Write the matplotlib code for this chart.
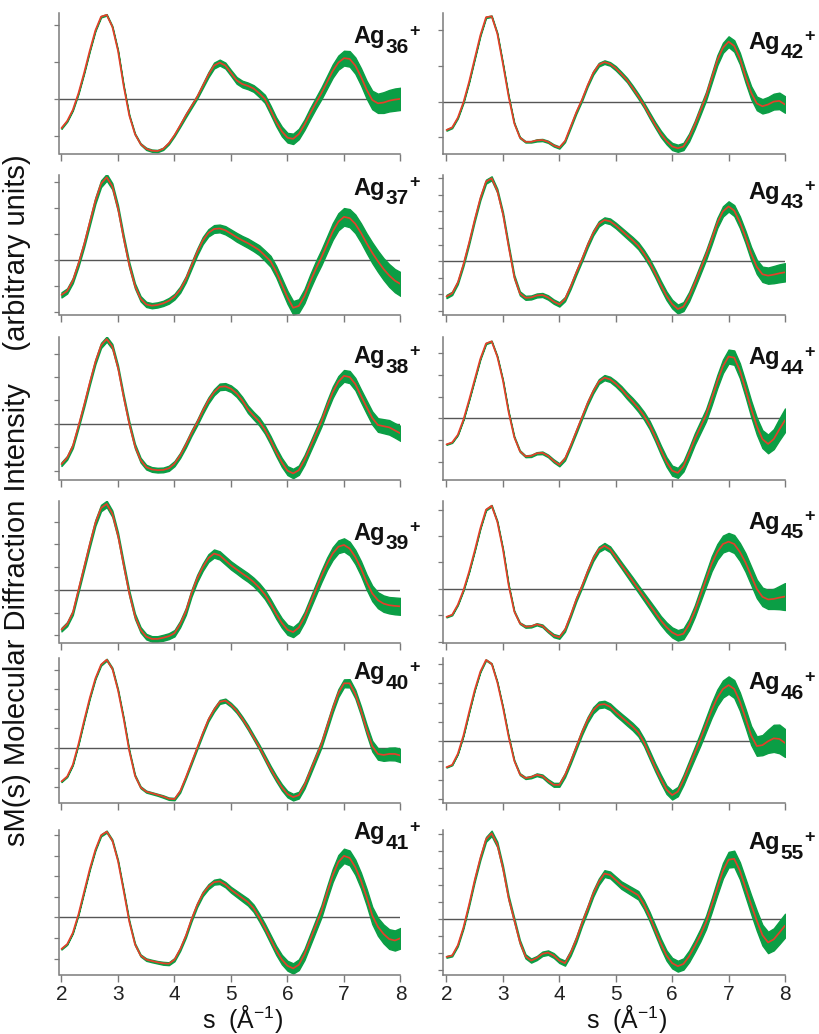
import matplotlib
matplotlib.use("Agg")
import matplotlib.pyplot as plt
from matplotlib import font_manager

# ---------------- data ----------------
s_values = [2.0, 2.1, 2.2, 2.3, 2.4, 2.5, 2.6, 2.7, 2.8, 2.9,
            3.0, 3.1, 3.2, 3.3, 3.4, 3.5, 3.6, 3.7, 3.8, 3.9,
            4.0, 4.1, 4.2, 4.3, 4.4, 4.5, 4.6, 4.7, 4.8, 4.9,
            5.0, 5.1, 5.2, 5.3, 5.4, 5.5, 5.6, 5.7, 5.8, 5.9,
            6.0, 6.1, 6.2, 6.3, 6.4, 6.5, 6.6, 6.7, 6.8, 6.9,
            7.0, 7.1, 7.2, 7.3, 7.4, 7.5, 7.6, 7.7, 7.8, 7.9,
            8.0]

cluster_sizes = ["36", "37", "38", "39", "40", "41",
                 "42", "43", "44", "45", "46", "55"]

x_tick_values = [2, 3, 4, 5, 6, 7, 8]

y_ag36 = [-0.79, -0.6, -0.3, 0.15, 0.7, 1.3, 1.85, 2.22, 2.27, 1.95,
          1.3, 0.35, -0.45, -0.95, -1.22, -1.35, -1.40, -1.41, -1.35, -1.2,
          -0.98, -0.72, -0.45, -0.2, 0.05, 0.35, 0.65, 0.9, 0.98, 0.9,
          0.7, 0.5, 0.4, 0.35, 0.28, 0.15, 0.0, -0.3, -0.62, -0.88,
          -1.05, -1.08, -0.95, -0.7, -0.4, -0.12, 0.15, 0.45, 0.75, 0.98,
          1.1, 1.08, 0.9, 0.6, 0.25, -0.03, -0.12, -0.1, -0.05, -0.02,
          0.0]
y_ag37 = [-1.35, -1.2, -0.8, -0.15, 0.6, 1.45, 2.3, 2.95, 3.2, 2.85,
          2.0, 0.85, -0.2, -1.0, -1.5, -1.72, -1.77, -1.74, -1.68, -1.58,
          -1.42, -1.15, -0.75, -0.22, 0.3, 0.75, 1.05, 1.2, 1.22, 1.15,
          1.02, 0.88, 0.76, 0.65, 0.52, 0.38, 0.17, -0.05, -0.45, -0.95,
          -1.45, -1.85, -1.78, -1.4, -0.85, -0.35, 0.1, 0.6, 1.1, 1.48,
          1.67, 1.62, 1.4, 1.05, 0.65, 0.28, -0.05, -0.35, -0.6, -0.8,
          -0.93]
y_ag38 = [-1.72, -1.45, -0.95, -0.1, 0.8, 1.75, 2.65, 3.35, 3.62, 3.3,
          2.4, 1.15, 0.0, -0.95, -1.55, -1.85, -1.95, -1.98, -1.97, -1.9,
          -1.7, -1.35, -0.9, -0.4, 0.05, 0.55, 1.0, 1.35, 1.58, 1.6,
          1.5, 1.3, 1.0, 0.62, 0.35, 0.1, -0.25, -0.7, -1.2, -1.65,
          -2.0, -2.12, -1.98, -1.55, -1.0, -0.45, 0.1, 0.75, 1.35, 1.8,
          2.05, 2.0, 1.7, 1.2, 0.72, 0.25, -0.05, -0.1, -0.15, -0.28,
          -0.41]
y_ag39 = [-1.74, -1.5, -1.0, 0.0, 1.0, 2.0, 2.95, 3.6, 3.78, 3.35,
          2.4, 1.1, -0.15, -1.15, -1.75, -2.05, -2.15, -2.15, -2.1, -2.03,
          -1.9, -1.5, -0.95, -0.15, 0.5, 1.0, 1.4, 1.6, 1.52, 1.3,
          1.08, 0.9, 0.72, 0.55, 0.35, 0.1, -0.2, -0.6, -1.05, -1.45,
          -1.75, -1.85, -1.65, -1.2, -0.6, 0.0, 0.6, 1.15, 1.6, 1.9,
          1.98, 1.82, 1.45, 0.95, 0.35, -0.15, -0.45, -0.6, -0.67, -0.7,
          -0.72]
y_ag40 = [-1.7, -1.45, -0.85, 0.2, 1.4, 2.55, 3.55, 4.25, 4.5, 4.05,
          2.95, 1.5, -0.15, -1.4, -2.0, -2.22, -2.3, -2.38, -2.47, -2.58,
          -2.6, -2.2, -1.5, -0.75, 0.0, 0.75, 1.45, 1.95, 2.35, 2.42,
          2.2, 1.9, 1.5, 1.05, 0.55, 0.05, -0.5, -1.05, -1.55, -2.0,
          -2.35, -2.5, -2.4, -1.9, -1.2, -0.5, 0.2, 1.1, 2.0, 2.8,
          3.3, 3.3, 2.75, 1.9, 0.95, 0.1, -0.3, -0.35, -0.3, -0.3,
          -0.38]
y_ag41 = [-1.53, -1.3, -0.75, 0.15, 1.25, 2.35, 3.3, 4.0, 4.18, 3.75,
          2.75, 1.3, -0.2, -1.3, -1.85, -2.05, -2.12, -2.18, -2.23, -2.25,
          -2.05, -1.55, -0.9, -0.1, 0.6, 1.15, 1.5, 1.72, 1.76, 1.6,
          1.35, 1.15, 0.95, 0.75, 0.45, 0.0, -0.5, -1.05, -1.6, -2.05,
          -2.35, -2.48, -2.3, -1.8, -1.1, -0.4, 0.3, 1.2, 2.05, 2.7,
          3.0, 2.9, 2.45, 1.8, 1.0, 0.1, -0.45, -0.8, -1.05, -1.12,
          -1.01]
y_ag42 = [-0.79, -0.72, -0.45, -0.02, 0.55, 1.2, 1.85, 2.35, 2.38, 1.9,
          1.05, 0.15, -0.6, -1.0, -1.12, -1.12, -1.08, -1.07, -1.12, -1.22,
          -1.28, -1.1, -0.7, -0.3, 0.05, 0.45, 0.8, 1.03, 1.1, 1.05,
          0.93, 0.77, 0.6, 0.38, 0.15, -0.1, -0.38, -0.65, -0.9, -1.1,
          -1.25, -1.3, -1.25, -1.0, -0.65, -0.25, 0.15, 0.65, 1.15, 1.5,
          1.67, 1.55, 1.2, 0.7, 0.25, -0.05, -0.13, -0.08, 0.0, 0.02,
          -0.08]
y_ag43 = [-2.14, -1.95, -1.3, -0.2, 1.1, 2.5, 3.8, 4.8, 5.0, 4.25,
          2.85, 0.9, -0.95, -1.95, -2.22, -2.2, -2.08, -2.05, -2.2, -2.45,
          -2.62, -2.3, -1.55, -0.7, 0.1, 0.95, 1.7, 2.25, 2.48, 2.4,
          2.15, 1.85, 1.55, 1.25, 0.92, 0.45, -0.1, -0.75, -1.45, -2.1,
          -2.6, -2.9, -2.75, -2.15, -1.35, -0.5, 0.35, 1.3, 2.3, 3.0,
          3.3, 3.05, 2.35, 1.45, 0.45, -0.35, -0.8, -0.88, -0.82, -0.74,
          -0.68]
y_ag44 = [-1.19, -1.1, -0.75, -0.05, 0.85, 1.8, 2.75, 3.45, 3.55, 2.85,
          1.75, 0.3, -0.85, -1.5, -1.74, -1.72, -1.6, -1.58, -1.72, -1.95,
          -2.13, -1.85, -1.25, -0.6, 0.05, 0.7, 1.25, 1.7, 1.88, 1.8,
          1.6, 1.35, 1.05, 0.78, 0.48, 0.13, -0.3, -0.85, -1.45, -2.0,
          -2.4, -2.5, -2.2, -1.6, -0.95, -0.4, 0.15, 0.9, 1.7, 2.4,
          2.85, 2.8, 2.2, 1.35, 0.45, -0.35, -0.95, -1.17, -0.95, -0.5,
          -0.08]
y_ag45 = [-1.06, -0.98, -0.6, -0.05, 0.65, 1.45, 2.3, 3.0, 3.15, 2.55,
          1.5, 0.15, -0.85, -1.3, -1.43, -1.42, -1.34, -1.4, -1.6, -1.77,
          -1.83, -1.55, -1.0, -0.4, 0.1, 0.65, 1.15, 1.5, 1.63, 1.5,
          1.2, 0.9, 0.6, 0.3, 0.0, -0.3, -0.6, -0.9, -1.2, -1.45,
          -1.65, -1.76, -1.7, -1.35, -0.85, -0.25, 0.35, 0.95, 1.4, 1.7,
          1.79, 1.7, 1.4, 1.0, 0.5, 0.0, -0.3, -0.4, -0.38, -0.33,
          -0.29]
y_ag46 = [-1.34, -1.22, -0.65, 0.3, 1.5, 2.65, 3.6, 4.2, 4.0, 3.05,
          1.75, 0.25, -1.0, -1.7, -1.9, -1.85, -1.73, -1.8, -2.05, -2.25,
          -2.25, -1.75, -1.05, -0.3, 0.45, 1.1, 1.6, 1.88, 1.92, 1.78,
          1.5, 1.25, 1.0, 0.75, 0.45, -0.05, -0.7, -1.35, -1.95, -2.5,
          -2.78, -2.6, -2.0, -1.3, -0.6, 0.1, 0.85, 1.6, 2.25, 2.7,
          2.9, 2.7, 2.05, 1.2, 0.3, -0.25, -0.2, 0.0, 0.15, 0.12,
          -0.09]
y_ag55 = [-2.23, -2.15, -1.55, -0.5, 0.85, 2.3, 3.6, 4.7, 5.05, 4.4,
          3.0, 1.25, -0.05, -1.35, -2.2, -2.45, -2.3, -2.05, -1.98, -2.15,
          -2.45, -2.6, -2.0, -1.2, -0.25, 0.6, 1.5, 2.2, 2.68, 2.6,
          2.3, 2.0, 1.8, 1.6, 1.4, 0.85, 0.15, -0.65, -1.45, -2.15,
          -2.6, -2.78, -2.65, -2.2, -1.6, -0.95, -0.2, 0.8, 1.85, 2.85,
          3.5, 3.55, 2.85, 1.85, 0.85, -0.1, -0.95, -1.38, -1.2, -0.8,
          -0.39]

err_ag36 = [0.02, 0.02, 0.02, 0.02, 0.02, 0.02, 0.02, 0.02, 0.02, 0.02,
            0.02, 0.02, 0.02, 0.02, 0.02, 0.03, 0.03, 0.03, 0.03, 0.03,
            0.03, 0.04, 0.05, 0.05, 0.05, 0.06, 0.07, 0.08, 0.08, 0.08,
            0.08, 0.09, 0.09, 0.09, 0.09, 0.10, 0.11, 0.12, 0.12, 0.13,
            0.13, 0.14, 0.14, 0.14, 0.15, 0.15, 0.16, 0.17, 0.18, 0.19,
            0.20, 0.21, 0.22, 0.23, 0.24, 0.25, 0.26, 0.28, 0.29, 0.30,
            0.30]
err_ag37 = [0.10, 0.10, 0.10, 0.11, 0.11, 0.12, 0.12, 0.13, 0.13, 0.12,
            0.12, 0.11, 0.11, 0.10, 0.10, 0.10, 0.10, 0.10, 0.10, 0.11,
            0.11, 0.12, 0.12, 0.13, 0.13, 0.14, 0.14, 0.15, 0.15, 0.16,
            0.16, 0.17, 0.17, 0.18, 0.18, 0.19, 0.20, 0.21, 0.22, 0.24,
            0.25, 0.26, 0.26, 0.27, 0.28, 0.29, 0.30, 0.31, 0.32, 0.33,
            0.34, 0.35, 0.36, 0.37, 0.38, 0.40, 0.41, 0.42, 0.44, 0.45,
            0.46]
err_ag38 = [0.08, 0.08, 0.09, 0.09, 0.10, 0.10, 0.10, 0.11, 0.11, 0.11,
            0.10, 0.10, 0.10, 0.10, 0.10, 0.10, 0.10, 0.10, 0.10, 0.11,
            0.11, 0.11, 0.12, 0.12, 0.12, 0.13, 0.13, 0.13, 0.14, 0.14,
            0.14, 0.15, 0.15, 0.16, 0.16, 0.17, 0.17, 0.18, 0.18, 0.19,
            0.19, 0.20, 0.20, 0.21, 0.21, 0.22, 0.22, 0.23, 0.24, 0.24,
            0.25, 0.26, 0.26, 0.27, 0.28, 0.28, 0.29, 0.30, 0.31, 0.31,
            0.32]
err_ag39 = [0.08, 0.09, 0.10, 0.11, 0.12, 0.13, 0.13, 0.14, 0.14, 0.14,
            0.13, 0.13, 0.12, 0.12, 0.12, 0.12, 0.12, 0.12, 0.13, 0.13,
            0.14, 0.14, 0.15, 0.15, 0.16, 0.16, 0.17, 0.18, 0.18, 0.18,
            0.18, 0.18, 0.19, 0.19, 0.19, 0.20, 0.20, 0.20, 0.21, 0.21,
            0.22, 0.22, 0.23, 0.23, 0.24, 0.25, 0.26, 0.27, 0.28, 0.28,
            0.29, 0.30, 0.31, 0.32, 0.33, 0.34, 0.35, 0.36, 0.36, 0.37,
            0.37]
err_ag40 = [0.03, 0.03, 0.03, 0.03, 0.04, 0.04, 0.04, 0.05, 0.05, 0.05,
            0.05, 0.05, 0.05, 0.05, 0.05, 0.05, 0.05, 0.05, 0.06, 0.06,
            0.06, 0.07, 0.07, 0.08, 0.08, 0.09, 0.09, 0.10, 0.10, 0.10,
            0.10, 0.11, 0.11, 0.12, 0.12, 0.13, 0.14, 0.15, 0.15, 0.16,
            0.16, 0.17, 0.17, 0.17, 0.18, 0.18, 0.18, 0.19, 0.19, 0.20,
            0.20, 0.21, 0.22, 0.23, 0.25, 0.27, 0.29, 0.30, 0.32, 0.33,
            0.34]
err_ag41 = [0.03, 0.03, 0.03, 0.03, 0.04, 0.04, 0.04, 0.05, 0.05, 0.05,
            0.05, 0.05, 0.05, 0.05, 0.05, 0.06, 0.06, 0.06, 0.07, 0.07,
            0.08, 0.08, 0.09, 0.10, 0.10, 0.11, 0.12, 0.12, 0.13, 0.13,
            0.14, 0.15, 0.16, 0.17, 0.18, 0.19, 0.20, 0.21, 0.22, 0.23,
            0.24, 0.25, 0.26, 0.27, 0.28, 0.29, 0.30, 0.31, 0.32, 0.34,
            0.35, 0.36, 0.37, 0.38, 0.40, 0.42, 0.44, 0.46, 0.48, 0.49,
            0.50]
err_ag42 = [0.02, 0.02, 0.02, 0.02, 0.02, 0.02, 0.02, 0.02, 0.02, 0.02,
            0.02, 0.02, 0.02, 0.02, 0.02, 0.02, 0.03, 0.03, 0.03, 0.03,
            0.03, 0.03, 0.04, 0.04, 0.04, 0.04, 0.05, 0.05, 0.05, 0.05,
            0.06, 0.06, 0.06, 0.07, 0.07, 0.07, 0.08, 0.08, 0.09, 0.09,
            0.10, 0.10, 0.10, 0.11, 0.11, 0.12, 0.12, 0.13, 0.14, 0.14,
            0.15, 0.16, 0.16, 0.17, 0.18, 0.19, 0.20, 0.21, 0.22, 0.23,
            0.23]
err_ag43 = [0.10, 0.10, 0.10, 0.11, 0.11, 0.11, 0.12, 0.12, 0.12, 0.12,
            0.12, 0.12, 0.12, 0.12, 0.12, 0.12, 0.12, 0.12, 0.13, 0.13,
            0.13, 0.13, 0.14, 0.14, 0.14, 0.15, 0.15, 0.16, 0.16, 0.17,
            0.17, 0.18, 0.19, 0.20, 0.21, 0.22, 0.23, 0.24, 0.25, 0.26,
            0.26, 0.27, 0.27, 0.28, 0.28, 0.29, 0.29, 0.30, 0.30, 0.31,
            0.31, 0.33, 0.35, 0.37, 0.40, 0.43, 0.46, 0.49, 0.52, 0.54,
            0.55]
err_ag44 = [0.02, 0.02, 0.02, 0.02, 0.02, 0.03, 0.03, 0.03, 0.03, 0.03,
            0.03, 0.03, 0.04, 0.04, 0.04, 0.05, 0.05, 0.06, 0.06, 0.07,
            0.07, 0.08, 0.08, 0.09, 0.09, 0.10, 0.10, 0.11, 0.12, 0.12,
            0.13, 0.14, 0.15, 0.16, 0.17, 0.18, 0.19, 0.20, 0.21, 0.22,
            0.23, 0.23, 0.24, 0.25, 0.26, 0.27, 0.28, 0.29, 0.30, 0.31,
            0.32, 0.33, 0.34, 0.35, 0.37, 0.39, 0.41, 0.43, 0.46, 0.50,
            0.54]
err_ag45 = [0.02, 0.02, 0.02, 0.02, 0.02, 0.02, 0.02, 0.03, 0.03, 0.03,
            0.03, 0.03, 0.03, 0.03, 0.04, 0.04, 0.04, 0.05, 0.05, 0.06,
            0.06, 0.07, 0.07, 0.08, 0.08, 0.09, 0.10, 0.10, 0.11, 0.11,
            0.12, 0.12, 0.13, 0.14, 0.14, 0.15, 0.16, 0.17, 0.17, 0.18,
            0.19, 0.20, 0.20, 0.21, 0.22, 0.24, 0.26, 0.28, 0.30, 0.32,
            0.33, 0.34, 0.34, 0.35, 0.35, 0.35, 0.35, 0.36, 0.38, 0.44,
            0.51]
err_ag46 = [0.02, 0.02, 0.02, 0.02, 0.02, 0.02, 0.03, 0.03, 0.03, 0.03,
            0.03, 0.04, 0.04, 0.05, 0.05, 0.06, 0.07, 0.08, 0.09, 0.10,
            0.10, 0.11, 0.12, 0.13, 0.14, 0.15, 0.16, 0.17, 0.17, 0.17,
            0.18, 0.18, 0.19, 0.19, 0.20, 0.20, 0.21, 0.21, 0.22, 0.22,
            0.23, 0.24, 0.26, 0.28, 0.30, 0.33, 0.36, 0.39, 0.42, 0.44,
            0.45, 0.46, 0.47, 0.48, 0.49, 0.50, 0.52, 0.60, 0.70, 0.74,
            0.72]
err_ag55 = [0.05, 0.05, 0.06, 0.07, 0.08, 0.10, 0.12, 0.14, 0.16, 0.16,
            0.15, 0.14, 0.13, 0.12, 0.12, 0.12, 0.12, 0.13, 0.13, 0.14,
            0.14, 0.15, 0.16, 0.17, 0.17, 0.18, 0.19, 0.19, 0.20, 0.20,
            0.21, 0.22, 0.23, 0.24, 0.25, 0.26, 0.27, 0.28, 0.29, 0.30,
            0.31, 0.32, 0.33, 0.34, 0.35, 0.37, 0.39, 0.41, 0.43, 0.45,
            0.46, 0.48, 0.50, 0.53, 0.56, 0.59, 0.61, 0.63, 0.65, 0.68,
            0.70]

curves = [y_ag36, y_ag37, y_ag38, y_ag39, y_ag40, y_ag41,
          y_ag42, y_ag43, y_ag44, y_ag45, y_ag46, y_ag55]
errors = [err_ag36, err_ag37, err_ag38, err_ag39, err_ag40, err_ag41,
          err_ag42, err_ag43, err_ag44, err_ag45, err_ag46, err_ag55]

# ---------------- layout / style ----------------
y_limits = [(-1.49, 2.32), (-2.13, 3.29), (-2.4, 3.71), (-2.33, 3.91),
            (-2.8, 4.59), (-2.8, 4.26),
            (-1.46, 2.47), (-3.26, 5.2), (-2.83, 3.75), (-2.05, 3.33),
            (-3.19, 4.3), (-3.3, 5.25)]
y_ticks = [(-1, 2), (-2, 3), (-2, 3), (-2, 3), (-2, 4), (-2, 4),
           (-1, 2), (-3, 5), (-2, 3), (-2, 3), (-3, 4), (-3, 5)]
label_top_px = [14, 3, 10, 22, 5, -7, 19, 7, 11, 11, 15, 3]

row_px = [(13, 154), (175, 315), (337, 480), (501, 643), (658, 803), (830, 975)]
FW, FH = 820, 1034
col_left_px = [59.5, 443.0]
col_width_px = [341.0, 342.0]
col_xmin = [1.965, 1.938]

RED = "#e4402a"
GREEN = "#0b9e45"
AXC = "#7a7a7a"

def pick_font(cands):
    names = {f.name for f in font_manager.fontManager.ttflist}
    for c in cands:
        if c in names:
            return c
    return "DejaVu Sans"

NARROW = pick_font(["Liberation Sans Narrow", "Liberation Sans", "DejaVu Sans"])
SANS = pick_font(["Liberation Sans", "DejaVu Sans"])

plt.rcParams["mathtext.fontset"] = "custom"
plt.rcParams["mathtext.rm"] = NARROW
plt.rcParams["mathtext.it"] = NARROW
plt.rcParams["mathtext.bf"] = NARROW + ":bold"

fig = plt.figure(figsize=(FW / 100, FH / 100), dpi=100)

for i, (yv, ev, size) in enumerate(zip(curves, errors, cluster_sizes)):
    col = 0 if i < 6 else 1
    row = i % 6
    top, bot = row_px[row]
    rect = [col_left_px[col] / FW, 1 - bot / FH,
            col_width_px[col] / FW, (bot - top) / FH]
    ax = fig.add_axes(rect)
    lo = [y - e for y, e in zip(yv, ev)]
    hi = [y + e for y, e in zip(yv, ev)]
    ax.fill_between(s_values, lo, hi, color=GREEN, lw=1.0, edgecolor=GREEN,
                    joinstyle="round", zorder=2)
    ax.axhline(0, color="#555555", lw=1.0, zorder=1)
    ax.plot(s_values, yv, color=RED, lw=1.25, zorder=3,
            solid_capstyle="round", solid_joinstyle="round")
    ax.set_xlim(col_xmin[col], 8.0)
    ax.set_ylim(*y_limits[i])
    ax.set_yticks(list(range(y_ticks[i][0], y_ticks[i][1] + 1)))
    ax.set_yticklabels([])
    ax.set_xticks(x_tick_values)
    for sp in ("top", "right"):
        ax.spines[sp].set_visible(False)
    for sp in ("left", "bottom"):
        ax.spines[sp].set_color(AXC)
        ax.spines[sp].set_linewidth(1.1)
    ax.tick_params(axis="y", direction="out", length=3.5, width=0.9, color=AXC)
    ax.tick_params(axis="x", direction="out", length=5, width=1.0, color=AXC,
                   labelsize=14, pad=2)
    if row == 5:
        ax.set_xticklabels([str(v) for v in x_tick_values], family=NARROW,
                           fontsize=15, color="#222222")
    else:
        ax.set_xticklabels([])
    ax.patch.set_alpha(0)

    # panel label Ag_n^+
    lx = 0.862 if col == 0 else 0.893
    ly = 1 - (label_top_px[i] + 16.5) / (bot - top)
    t1 = ax.text(lx, ly, "Ag", transform=ax.transAxes, fontsize=17,
                 fontweight="bold", family=SANS, ha="left", va="baseline",
                 color="#111111", clip_on=False)
    t2 = ax.annotate(size, xy=(1, 0), xycoords=t1, xytext=(0.2, -3.4),
                     textcoords="offset points", fontsize=15, fontweight="bold",
                     family=SANS, ha="left", va="baseline", color="#111111",
                     annotation_clip=False)
    ax.annotate("+", xy=(1, 1), xycoords=(t2, t1), xytext=(0.3, -4.5),
                textcoords="offset points", fontsize=13, fontweight="bold",
                family=SANS, ha="left", va="center", color="#111111",
                annotation_clip=False)

# axis titles
fig.text(243 / FW, 1 - 1019 / FH, r"s  (Å$^{\mathregular{-1}}$)", family=NARROW,
         fontsize=18, ha="center", va="center", color="#111111")
fig.text(627 / FW, 1 - 1019 / FH, r"s  (Å$^{\mathregular{-1}}$)", family=NARROW,
         fontsize=18, ha="center", va="center", color="#111111")
fig.text(17 / FW, 1 - 500 / FH,
         "sM(s) Molecular Diffraction Intensity    (arbitrary units)",
         family=SANS, fontsize=21, rotation=90, ha="center", va="center",
         color="#111111")

fig.savefig("out.png", dpi=100)
